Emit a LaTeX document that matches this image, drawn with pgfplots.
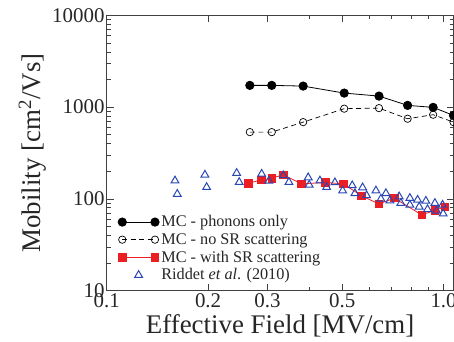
\documentclass[border=0pt]{standalone}
\usepackage{pgfplots}
\pgfplotsset{compat=1.18}
\usepackage{fontspec}
\setmainfont{Liberation Serif}
\definecolor{myred}{RGB}{235,30,35}
\definecolor{myblue}{RGB}{40,70,180}
\pgfplotsset{
  linelegend/.style={legend image code/.code={\draw[##1] plot coordinates {(0bp,0bp) (32.7bp,0bp)};}},
  marklegend/.style={legend image code/.code={\draw[##1] plot coordinates {(16.35bp,0bp)};}},
}
\begin{document}
\begin{tikzpicture}
\begin{axis}[
 xmode=log, ymode=log,
 scale only axis, width=346.8bp, height=275.4bp,
 xmin=0.1, xmax=1.07, ymin=10, ymax=10000,
 xtick={0.1,0.2,0.3,0.5,1.0}, xticklabels={0.1,0.2,0.3,0.5,1.0},
 minor xtick={0.4,0.6,0.7,0.8,0.9},
 ytick={10,100,1000,10000}, yticklabels={10,100,1000,10000},
 minor ytick={20,30,40,50,60,70,80,90,200,300,400,500,600,700,800,900,2000,3000,4000,5000,6000,7000,8000,9000},
 major tick length=7bp, minor tick length=4bp,
 tick style={black!75, line width=0.6pt},
 axis line style={black!75, line width=0.8pt},
 tick label style={font=\fontsize{21}{21}\selectfont, text=black!85},
 yticklabel style={inner sep=2pt},
 xticklabel style={inner sep=3pt},
 xlabel={Effective Field [MV/cm]},
 ylabel={Mobility [cm\textsuperscript{2}/Vs]},
 every axis x label/.style={at={(axis description cs:0.5,-0.1536)}, anchor=base, font=\fontsize{27}{27}\selectfont, text=black!85},
 every axis y label/.style={at={(axis description cs:-0.1923,0.5)}, rotate=90, anchor=base, font=\fontsize{27}{27}\selectfont, text=black!85},
 legend style={draw=none, fill=none, font=\fontsize{16.3}{18}\selectfont, text=black!85,
   at={(axis description cs:0.0323,0.2774)}, anchor=north west,
   row sep=2.7pt, column sep=1bp, inner sep=0pt, nodes={inner sep=1.2pt}},
 legend cell align=left,
 linelegend,
]
\coordinate (O) at (rel axis cs:0,0);
\addplot[black, line width=0.8pt, mark=*, mark size=4.2pt] coordinates {
(0.266,1724) (0.309,1724) (0.383,1694) (0.507,1421) (0.643,1318) (0.782,1044) (0.931,993) (1.07,812)};
\addlegendentry{MC - phonons only}
\addplot[black, line width=0.7pt, dash pattern=on 5pt off 3.5pt, mark=o, mark size=3.7pt, mark options={solid, fill=white}] coordinates {
(0.266,534) (0.309,534) (0.383,686) (0.507,961) (0.643,975) (0.782,747) (0.931,826) (1.07,686)};
\addlegendentry{MC - no SR scattering}
\addplot[myred, line width=0.8pt, mark=square*, mark size=3.8pt] coordinates {
(0.263,148) (0.288,161) (0.309,168) (0.334,183) (0.379,146) (0.445,151) (0.504,146) (0.571,108) (0.643,88) (0.714,102) (0.861,67) (0.942,75) (1.009,82)};
\addlegendentry{MC - with SR scattering}
\addplot[myblue, only marks, mark=triangle, mark size=4.5pt, mark options={line width=1pt}, marklegend] coordinates {
(0.1595,158) (0.162,113) (0.1957,183) (0.198,134) (0.2431,191) (0.2474,152) (0.2884,187) (0.303,157) (0.3343,180) (0.3475,152)
(0.3964,171) (0.3991,142) (0.4295,158) (0.4496,134) (0.4758,151) (0.5016,123) (0.5356,140) (0.5456,115) (0.5749,133) (0.5909,109)
(0.6297,123) (0.6516,100) (0.6742,115) (0.6929,96) (0.7381,106) (0.7467,90) (0.7943,102) (0.7943,86) (0.8372,97.5) (0.8465,82)
(0.8859,95) (0.896,77) (0.9423,90) (0.9533,74) (0.993,86) (0.997,69)};
\addlegendentry{Riddet \textit{et al}. (2010)}
\end{axis}
\pgfresetboundingbox
\path[use as bounding box] (O) ++(-106.7bp,-51.3bp) rectangle ++(454bp,342bp);
\end{tikzpicture}
\end{document}
